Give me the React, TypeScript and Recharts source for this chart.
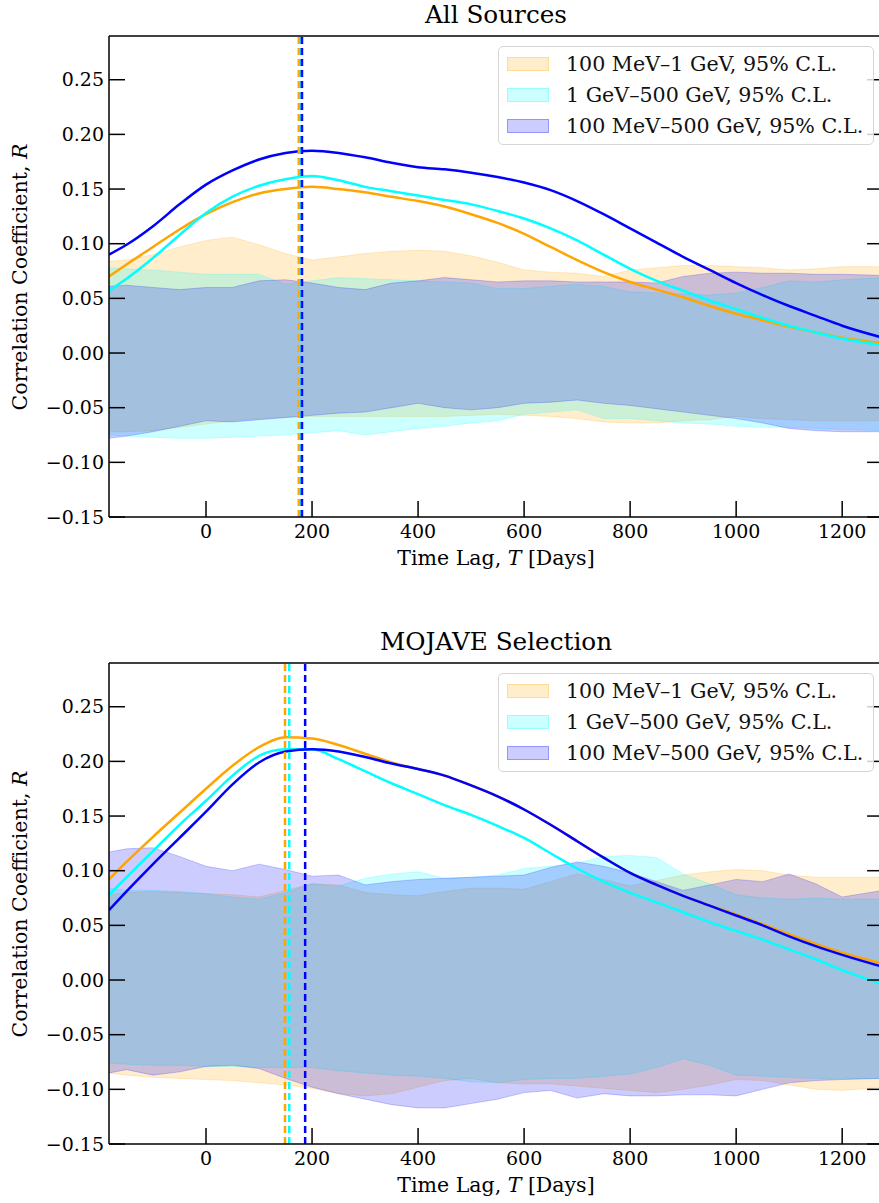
import React from "react";
import {
  ComposedChart, Area, Line, XAxis, YAxis, ReferenceLine,
} from "recharts";

// time lag grid, days
const LAGS = [-183, -150, -100, -50, 0, 50, 100, 150, 200, 250, 300, 350, 400, 450, 500, 550, 600, 650, 700, 750, 800, 850, 900, 950, 1000, 1050, 1100, 1150, 1200, 1277];

// --- All Sources ---
const ALL_LOW_R = [0.070, 0.081, 0.097, 0.113, 0.127, 0.138, 0.146, 0.150, 0.152, 0.150, 0.147, 0.143, 0.139, 0.134, 0.127, 0.119, 0.109, 0.097, 0.085, 0.074, 0.065, 0.058, 0.051, 0.043, 0.036, 0.030, 0.024, 0.019, 0.014, 0.009];
const ALL_HIGH_R = [0.057, 0.068, 0.087, 0.108, 0.128, 0.143, 0.153, 0.159, 0.162, 0.158, 0.152, 0.148, 0.144, 0.140, 0.136, 0.130, 0.123, 0.114, 0.103, 0.090, 0.077, 0.066, 0.057, 0.048, 0.040, 0.032, 0.025, 0.019, 0.013, 0.007];
const ALL_FULL_R = [0.090, 0.099, 0.116, 0.136, 0.154, 0.167, 0.177, 0.183, 0.185, 0.183, 0.179, 0.174, 0.170, 0.168, 0.165, 0.161, 0.156, 0.149, 0.139, 0.127, 0.114, 0.101, 0.088, 0.076, 0.064, 0.053, 0.043, 0.034, 0.025, 0.014];

const ALL_LOW_HI = [0.084, 0.085, 0.090, 0.097, 0.103, 0.106, 0.099, 0.091, 0.085, 0.088, 0.091, 0.093, 0.094, 0.093, 0.089, 0.083, 0.076, 0.074, 0.073, 0.070, 0.076, 0.078, 0.080, 0.080, 0.079, 0.078, 0.076, 0.077, 0.079, 0.079];
const ALL_LOW_LO = [-0.072, -0.072, -0.071, -0.068, -0.065, -0.062, -0.060, -0.059, -0.058, -0.058, -0.058, -0.058, -0.058, -0.058, -0.057, -0.056, -0.057, -0.058, -0.060, -0.063, -0.064, -0.064, -0.062, -0.061, -0.058, -0.060, -0.061, -0.062, -0.062, -0.062];
const ALL_HIGH_HI = [0.078, 0.077, 0.076, 0.074, 0.072, 0.072, 0.072, 0.063, 0.066, 0.069, 0.068, 0.067, 0.066, 0.065, 0.064, 0.059, 0.059, 0.061, 0.063, 0.061, 0.056, 0.055, 0.054, 0.053, 0.055, 0.060, 0.066, 0.065, 0.067, 0.069];
const ALL_HIGH_LO = [-0.075, -0.076, -0.077, -0.078, -0.078, -0.077, -0.076, -0.075, -0.073, -0.071, -0.075, -0.072, -0.069, -0.067, -0.064, -0.062, -0.056, -0.054, -0.052, -0.060, -0.060, -0.062, -0.064, -0.065, -0.067, -0.068, -0.068, -0.069, -0.070, -0.071];
const ALL_FULL_HI = [0.061, 0.062, 0.060, 0.058, 0.060, 0.060, 0.066, 0.067, 0.064, 0.060, 0.058, 0.064, 0.066, 0.069, 0.067, 0.065, 0.066, 0.066, 0.065, 0.065, 0.065, 0.064, 0.070, 0.073, 0.074, 0.073, 0.073, 0.072, 0.072, 0.071];
const ALL_FULL_LO = [-0.078, -0.076, -0.072, -0.067, -0.062, -0.063, -0.061, -0.059, -0.057, -0.055, -0.054, -0.050, -0.046, -0.050, -0.052, -0.050, -0.046, -0.045, -0.043, -0.046, -0.048, -0.051, -0.054, -0.057, -0.060, -0.064, -0.069, -0.071, -0.072, -0.072];
const ALL_PEAKS = [175, 178, 181];

// --- MOJAVE Selection ---
const MOJ_LOW_R = [0.092, 0.108, 0.131, 0.153, 0.175, 0.196, 0.213, 0.222, 0.221, 0.215, 0.207, 0.199, 0.193, 0.187, 0.178, 0.168, 0.156, 0.142, 0.127, 0.112, 0.098, 0.087, 0.077, 0.068, 0.060, 0.051, 0.042, 0.033, 0.025, 0.015];
const MOJ_HIGH_R = [0.078, 0.094, 0.118, 0.142, 0.164, 0.187, 0.205, 0.211, 0.211, 0.202, 0.191, 0.180, 0.170, 0.160, 0.151, 0.141, 0.130, 0.116, 0.102, 0.090, 0.080, 0.071, 0.062, 0.053, 0.045, 0.037, 0.028, 0.019, 0.009, -0.004];
const MOJ_FULL_R = [0.064, 0.081, 0.106, 0.130, 0.154, 0.179, 0.199, 0.209, 0.211, 0.209, 0.204, 0.198, 0.193, 0.187, 0.178, 0.168, 0.156, 0.142, 0.127, 0.112, 0.098, 0.087, 0.077, 0.068, 0.059, 0.050, 0.040, 0.031, 0.023, 0.012];

const MOJ_LOW_HI = [0.078, 0.080, 0.081, 0.080, 0.079, 0.078, 0.076, 0.082, 0.088, 0.087, 0.080, 0.078, 0.077, 0.081, 0.084, 0.084, 0.083, 0.090, 0.097, 0.092, 0.086, 0.091, 0.096, 0.099, 0.101, 0.100, 0.096, 0.094, 0.094, 0.094];
const MOJ_LOW_LO = [-0.085, -0.087, -0.089, -0.090, -0.091, -0.092, -0.094, -0.096, -0.099, -0.104, -0.106, -0.104, -0.098, -0.092, -0.090, -0.094, -0.095, -0.095, -0.097, -0.099, -0.101, -0.103, -0.100, -0.096, -0.091, -0.092, -0.096, -0.100, -0.101, -0.098];
const MOJ_HIGH_HI = [0.084, 0.082, 0.082, 0.081, 0.079, 0.076, 0.074, 0.080, 0.088, 0.086, 0.093, 0.097, 0.099, 0.093, 0.094, 0.096, 0.102, 0.104, 0.107, 0.113, 0.114, 0.112, 0.097, 0.088, 0.078, 0.075, 0.074, 0.075, 0.074, 0.074];
const MOJ_HIGH_LO = [-0.076, -0.077, -0.078, -0.078, -0.079, -0.079, -0.080, -0.080, -0.080, -0.083, -0.085, -0.087, -0.088, -0.090, -0.093, -0.094, -0.091, -0.090, -0.090, -0.088, -0.086, -0.080, -0.072, -0.078, -0.087, -0.088, -0.089, -0.090, -0.090, -0.090];
const MOJ_FULL_HI = [0.117, 0.120, 0.121, 0.113, 0.104, 0.100, 0.106, 0.101, 0.095, 0.096, 0.087, 0.090, 0.092, 0.093, 0.094, 0.095, 0.096, 0.103, 0.108, 0.104, 0.098, 0.090, 0.082, 0.087, 0.092, 0.090, 0.097, 0.088, 0.076, 0.082];
const MOJ_FULL_LO = [-0.085, -0.082, -0.087, -0.084, -0.079, -0.078, -0.081, -0.090, -0.098, -0.104, -0.109, -0.114, -0.117, -0.117, -0.113, -0.109, -0.103, -0.101, -0.108, -0.104, -0.106, -0.106, -0.105, -0.105, -0.106, -0.100, -0.094, -0.092, -0.091, -0.090];
const MOJ_PEAKS = [149, 157, 187];

const X_MIN = -183;
const X_MAX = 1277;
const X_TICKS = [0, 200, 400, 600, 800, 1000, 1200];
const Y_TICKS = [-0.15, -0.1, -0.05, 0, 0.05, 0.1, 0.15, 0.2, 0.25];
const BAND_NAMES = ["100 MeV–1 GeV, 95% C.L.", "1 GeV–500 GeV, 95% C.L.", "100 MeV–500 GeV, 95% C.L."];
const COLORS = ["#ffa500", "#00ffff", "#0000ff"];

const FONT = "'DejaVu Serif', serif";
const CHART_W = 884;
const RIGHT_TICK_DAYS = 30; // ~16px inward tick on the right spine

function buildRows(r: number[][], hi: number[][], lo: number[][]) {
  return LAGS.map((t, i) => ({
    t,
    r0: r[0][i], r1: r[1][i], r2: r[2][i],
    b0: [lo[0][i], hi[0][i]],
    b1: [lo[1][i], hi[1][i]],
    b2: [lo[2][i], hi[2][i]],
  }));
}

const allRows = buildRows(
  [ALL_LOW_R, ALL_HIGH_R, ALL_FULL_R],
  [ALL_LOW_HI, ALL_HIGH_HI, ALL_FULL_HI],
  [ALL_LOW_LO, ALL_HIGH_LO, ALL_FULL_LO],
);
const mojRows = buildRows(
  [MOJ_LOW_R, MOJ_HIGH_R, MOJ_FULL_R],
  [MOJ_LOW_HI, MOJ_HIGH_HI, MOJ_FULL_HI],
  [MOJ_LOW_LO, MOJ_HIGH_LO, MOJ_FULL_LO],
);

const fmtY = (v: number) => (Math.abs(v) < 1e-9 ? "0.00" : v.toFixed(2).replace("-", "\u2212"));

const axisLine = { stroke: "#000", strokeWidth: 1.5 };
const tickFont = { fill: "#000", fontSize: 19, fontFamily: FONT };

function Legend() {
  return (
    <div style={{
      position: "absolute", left: 498, top: 46, width: 376, height: 99,
      border: "1px solid #d6d6d6", borderRadius: 5, background: "rgba(255,255,255,0.8)",
      boxSizing: "border-box", zIndex: 2,
    }}>
      {BAND_NAMES.map((name, i) => (
        <div key={name} style={{ position: "absolute", left: 0, top: 2 + i * 31, height: 31, width: "100%" }}>
          <div style={{
            position: "absolute", left: 8, top: 8, width: 42, height: 14,
            background: COLORS[i] + "33", border: "1px solid " + COLORS[i] + "44", boxSizing: "border-box",
          }} />
          <div style={{ position: "absolute", left: 67, top: 0, lineHeight: "31px", fontSize: 20.6, whiteSpace: "nowrap", color: "#111" }}>
            {name}
          </div>
        </div>
      ))}
    </div>
  );
}

function Panel({ title, rows, peaks, top }: { title: string; rows: any[]; peaks: number[]; top: number }) {
  return (
    <div style={{ position: "absolute", left: 0, top, width: CHART_W, height: 580 }}>
      <ComposedChart width={CHART_W} height={560} data={rows} margin={{ top: 35, right: 1, bottom: 3, left: 0 }}>
        <XAxis xAxisId="b" dataKey="t" type="number" domain={[X_MIN, X_MAX]} allowDataOverflow
          ticks={X_TICKS} tickSize={-16} tickMargin={24} height={40}
          axisLine={axisLine} tickLine={axisLine} tick={tickFont} interval={0} />
        <XAxis xAxisId="t" dataKey="t" type="number" orientation="top" domain={[X_MIN, X_MAX]} allowDataOverflow
          ticks={X_TICKS} tickSize={-16} height={1} axisLine={axisLine} tickLine={axisLine} tick={false} interval={0} />
        <YAxis yAxisId="l" type="number" domain={[-0.15, 0.29]} allowDataOverflow ticks={Y_TICKS}
          tickSize={-16} tickMargin={21} width={109} axisLine={axisLine} tickLine={axisLine}
          tick={tickFont} tickFormatter={fmtY} interval={0} />

        {[0, 1, 2].map((i) => (
          <Area key={"band" + i} xAxisId="b" yAxisId="l" type="linear" dataKey={"b" + i}
            fill={COLORS[i]} fillOpacity={0.2} stroke={COLORS[i]} strokeOpacity={0.2} strokeWidth={1}
            dot={false} activeDot={false} isAnimationActive={false} />
        ))}
        {[0, 1, 2].map((i) => (
          <Line key={"r" + i} xAxisId="b" yAxisId="l" type="monotone" dataKey={"r" + i}
            stroke={COLORS[i]} strokeWidth={2.5} dot={false} activeDot={false} isAnimationActive={false} />
        ))}
        {peaks.map((p, i) => (
          <ReferenceLine key={"p" + i} xAxisId="b" yAxisId="l" x={p}
            stroke={COLORS[i]} strokeWidth={2.5} strokeDasharray="7 4" />
        ))}
        {Y_TICKS.map((v) => (
          <ReferenceLine key={"rt" + v} xAxisId="b" yAxisId="l"
            segment={[{ x: X_MAX - RIGHT_TICK_DAYS, y: v }, { x: X_MAX, y: v }]}
            stroke="#000" strokeWidth={1.5} ifOverflow="visible" />
        ))}
      </ComposedChart>

      <div style={{ position: "absolute", left: 109, width: 774, top: 1, textAlign: "center", fontSize: 24.7, lineHeight: "28px" }}>
        {title}
      </div>
      <div style={{ position: "absolute", left: 109, width: 774, top: 545, textAlign: "center", fontSize: 20.5, lineHeight: "26px" }}>
        Time Lag, <i>T</i> [Days]
      </div>
      <div style={{
        position: "absolute", left: 20, top: 277, transform: "translate(-50%, -50%) rotate(-90deg)",
        fontSize: 20.5, whiteSpace: "nowrap", lineHeight: "24px",
      }}>
        Correlation Coefficient, <i>R</i>
      </div>
      <Legend />
    </div>
  );
}

export default function App() {
  return (
    <div style={{
      position: "absolute", left: 0, top: 0, width: 879, height: 1203, overflow: "hidden",
      background: "#fff", fontFamily: FONT, color: "#000",
    }}>
      <Panel title="All Sources" rows={allRows} peaks={ALL_PEAKS} top={0} />
      <Panel title="MOJAVE Selection" rows={mojRows} peaks={MOJ_PEAKS} top={627} />
    </div>
  );
}
